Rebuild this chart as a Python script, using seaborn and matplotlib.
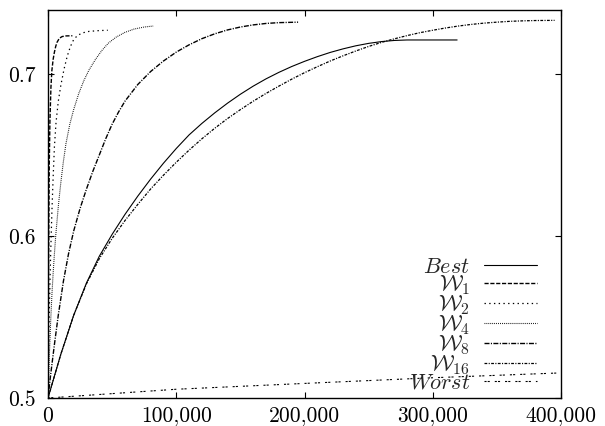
import matplotlib
matplotlib.use("Agg")
from matplotlib import pyplot as plt
from matplotlib.ticker import FuncFormatter, FixedLocator
import seaborn as sns

# values
best_x = [0, 10000, 20000, 30000, 40000, 50000, 60000, 70000, 80000, 90000, 100000, 110000,
          120000, 130000, 140000, 150000, 160000, 170000, 180000, 190000, 200000, 210000,
          220000, 230000, 240000, 250000, 260000, 270000, 280000, 319000]
best_y = [0.5, 0.527, 0.551, 0.571, 0.5875, 0.601, 0.6133, 0.6246, 0.6351, 0.6449, 0.654,
          0.6624, 0.6695, 0.676, 0.682, 0.6875, 0.6925, 0.697, 0.701, 0.7046, 0.7078, 0.7107,
          0.7133, 0.7155, 0.7174, 0.7189, 0.72, 0.7207, 0.721, 0.721]

w1_x = [0, 200, 400, 700, 1000, 1500, 2300, 3000, 4000, 5000, 6000, 7000, 8800, 11000,
        14000, 19000]
w1_y = [0.5, 0.54, 0.575, 0.615, 0.645, 0.671, 0.692, 0.702, 0.709, 0.7135, 0.717, 0.7195,
        0.722, 0.7231, 0.7235, 0.7236]

w2_x = [0, 500, 1000, 2000, 3000, 4000, 5000, 6250, 8000, 10000, 12500, 15000, 17500,
        20000, 23000, 27000, 32000, 40000, 46600]
w2_y = [0.5, 0.53, 0.553, 0.587, 0.614, 0.636, 0.655, 0.67, 0.683, 0.693, 0.703, 0.711,
        0.717, 0.7212, 0.7238, 0.7254, 0.7263, 0.7268, 0.727]

w4_x = [0, 1000, 2000, 3000, 4000, 5000, 6000, 8000, 10000, 12000, 14000, 17000, 20000,
        24000, 28000, 32000, 37000, 42000, 47000, 53000, 60000, 67000, 75000, 82000]
w4_y = [0.5, 0.525, 0.546, 0.563, 0.577, 0.589, 0.6, 0.618, 0.633, 0.646, 0.657, 0.669,
        0.678, 0.688, 0.696, 0.7025, 0.709, 0.7145, 0.719, 0.7227, 0.7257, 0.7277, 0.729,
        0.7296]

w8_x = [0, 2000, 5000, 8000, 12000, 16000, 20000, 25000, 30000, 35000, 40000, 45000, 50000,
        55000, 60000, 70000, 80000, 90000, 100000, 110000, 120000, 130000, 140000, 150000,
        160000, 170000, 180000, 195000]
w8_y = [0.5, 0.514, 0.533, 0.551, 0.572, 0.589, 0.603, 0.617, 0.629, 0.64, 0.65, 0.66,
        0.669, 0.6765, 0.6832, 0.6935, 0.7015, 0.708, 0.7135, 0.718, 0.7218, 0.7248, 0.7272,
        0.729, 0.7303, 0.7312, 0.7317, 0.732]

w16_x = [0, 10000, 20000, 30000, 40000, 50000, 60000, 70000, 80000, 90000, 100000, 110000,
         120000, 130000, 140000, 150000, 160000, 170000, 180000, 190000, 200000, 210000,
         220000, 230000, 240000, 250000, 260000, 270000, 280000, 290000, 300000, 310000,
         320000, 330000, 340000, 350000, 360000, 370000, 380000, 395000]
w16_y = [0.5, 0.527, 0.551, 0.5705, 0.586, 0.5985, 0.6095, 0.6195, 0.629, 0.6375, 0.6455,
         0.653, 0.66, 0.6665, 0.6725, 0.678, 0.6832, 0.688, 0.6925, 0.6968, 0.7008, 0.7045,
         0.708, 0.7112, 0.7142, 0.717, 0.7195, 0.7217, 0.7237, 0.7255, 0.727, 0.7284,
         0.7296, 0.7306, 0.7314, 0.732, 0.7325, 0.7328, 0.733, 0.7331]

worst_x = [0, 100000, 200000, 300000, 400000]
worst_y = [0.5, 0.5054, 0.509, 0.5125, 0.5155]

labels = [r"$Best$", r"$\mathcal{W}_1$", r"$\mathcal{W}_2$", r"$\mathcal{W}_4$",
          r"$\mathcal{W}_8$", r"$\mathcal{W}_{16}$", r"$Worst$"]
xticks = [0, 100000, 200000, 300000, 400000]
yticks = [0.5, 0.6, 0.7]

sns.set_style("ticks")
plt.rcParams["font.family"] = ["cmr10", "DejaVu Serif"]
plt.rcParams["mathtext.fontset"] = "cm"
plt.rcParams["lines.scale_dashes"] = False
plt.rcParams["axes.unicode_minus"] = False

series = [(best_x, best_y, "-", 0.8),
          (w1_x, w1_y, (0, (3.0, 1.2)), 1.0),
          (w2_x, w2_y, (0, (1.0, 2.4)), 0.9),
          (w4_x, w4_y, (0, (0.6, 0.8)), 0.8),
          (w8_x, w8_y, (0, (3.6, 1.0, 0.8, 1.0)), 1.0),
          (w16_x, w16_y, (0, (2.0, 1.0, 0.8, 1.0)), 0.9),
          (worst_x, worst_y, (0, (1.5, 0.8, 1.5, 3.6)), 0.8)]

fig = plt.figure(figsize=(6.05, 4.26), dpi=100)
ax = fig.add_axes([48 / 605, 1 - 398 / 426, 513 / 605, 388 / 426])

for (xs, ys, ls, lw), lab in zip(series, labels):
    sns.lineplot(x=xs, y=ys, ax=ax, color="black", linewidth=lw, linestyle=ls,
                 label=lab, sort=False)

ax.set_xlim(0, 400000)
ax.set_ylim(0.5, 0.7395)
ax.xaxis.set_major_locator(FixedLocator(xticks))
ax.yaxis.set_major_locator(FixedLocator(yticks))
ax.xaxis.set_major_formatter(FuncFormatter(lambda v, p: f"{v:,.0f}"))
ax.yaxis.set_major_formatter(FuncFormatter(lambda v, p: f"{v:.1f}"))
ax.tick_params(direction="in", length=4, width=0.8, top=True, right=True,
               labelsize=15.5, colors="black")
ax.tick_params(axis="x", pad=6)
ax.tick_params(axis="y", pad=9)
for sp in ax.spines.values():
    sp.set_visible(True)
    sp.set_linewidth(1.0)
    sp.set_color("black")
ax.set_xlabel("")
ax.set_ylabel("")

ax.legend(loc="lower right", bbox_to_anchor=(0.953, 0.014), frameon=False,
          markerfirst=False, fontsize=16, handlelength=2.4, handletextpad=0.6,
          labelspacing=-0.17, borderpad=0, borderaxespad=0)

fig.savefig("out.png", dpi=100)
